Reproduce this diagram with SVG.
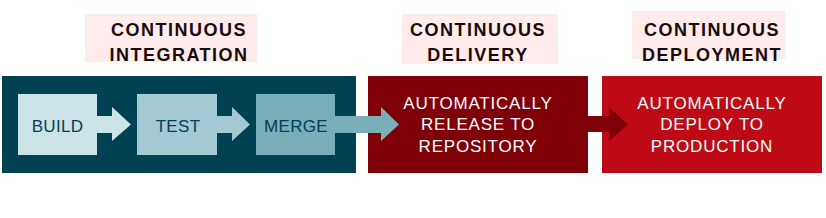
<svg xmlns="http://www.w3.org/2000/svg" width="826" height="218" viewBox="0 0 826 218">
<style>
.lbl{fill:#fdeceb}
.h{font-family:"Liberation Sans",Arial,sans-serif;font-weight:bold;font-size:18px;letter-spacing:1.5px;fill:#1a0a0a;text-anchor:middle}
.t{font-family:"Liberation Sans",Arial,sans-serif;font-size:17px;letter-spacing:0.3px;fill:#004153;text-anchor:middle}
.w{font-family:"Liberation Sans",Arial,sans-serif;font-size:17px;letter-spacing:0.8px;fill:#ffffff;text-anchor:middle}
</style>
<rect width="826" height="218" fill="#ffffff"/>
<g id="label-ci"><rect class="lbl" x="85" y="14" width="172" height="48"/><text class="h" x="179" y="36">CONTINUOUS</text><text class="h" x="179" y="61">INTEGRATION</text></g>
<g id="label-cd"><rect class="lbl" x="402" y="14" width="156" height="50"/><text class="h" x="478" y="36">CONTINUOUS</text><text class="h" x="478" y="61">DELIVERY</text></g>
<g id="label-cdep"><rect class="lbl" x="632" y="11" width="153" height="48"/><text class="h" x="712" y="36">CONTINUOUS</text><text class="h" x="712" y="61">DEPLOYMENT</text></g>
<g id="ci"><rect x="2" y="76" width="354" height="97" fill="#004153"/></g>
<g id="delivery"><rect x="368" y="76" width="220" height="97" fill="#800008"/><text class="w" x="478" y="109">AUTOMATICALLY</text><text class="w" x="478" y="130">RELEASE TO</text><text class="w" x="478" y="152">REPOSITORY</text></g>
<g id="deployment"><rect x="602" y="76" width="220" height="97" fill="#be0a14"/><text class="w" x="712" y="109">AUTOMATICALLY</text><text class="w" x="712" y="130">DEPLOY TO</text><text class="w" x="712" y="152">PRODUCTION</text></g>
<g id="connectors">
<polygon points="96,116 112,116 112,107 131,124.5 112,141 112,133 96,133" fill="#cce3e8"/>
<polygon points="216,116 232,116 232,107 250,124.5 232,141 232,133 216,133" fill="#a3c9d2"/>
<polygon points="334,116 381,116 381,107 399,124.5 381,141 381,133 334,133" fill="#7aaeb9"/>
<polygon points="587,116 609,116 609,107 628,124.5 609,141 609,132 587,132" fill="#800008"/>
</g>
<g id="build"><rect x="18" y="94" width="79" height="61" fill="#cce3e8"/><text class="t" x="57.5" y="132">BUILD</text></g>
<g id="test"><rect x="137" y="94" width="80" height="61" fill="#a3c9d2"/><text class="t" x="178" y="132">TEST</text></g>
<g id="merge"><rect x="256" y="94" width="79" height="61" fill="#7aaeb9"/><text class="t" x="296" y="132">MERGE</text></g>
</svg>
